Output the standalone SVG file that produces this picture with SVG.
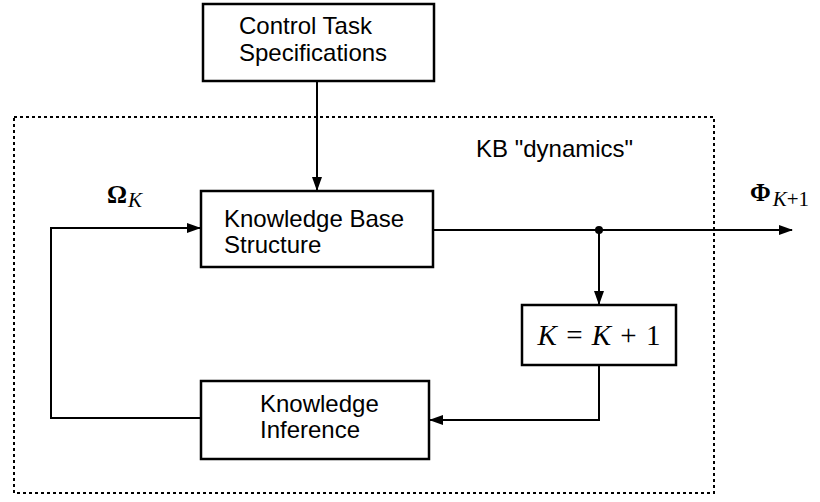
<svg xmlns="http://www.w3.org/2000/svg" width="820" height="502" viewBox="0 0 820 502">
<style>
.box{fill:#fff;stroke:#000;stroke-width:2.5}
.ln{fill:none;stroke:#000;stroke-width:2}
.t{font-family:"Liberation Sans",Arial,sans-serif;font-size:24px;fill:#000}
.m{font-family:"Liberation Serif","Times New Roman",serif;fill:#000}
</style>
<defs>
<marker id="ah" markerWidth="14" markerHeight="10" refX="13" refY="5" orient="auto" markerUnits="userSpaceOnUse">
<path d="M0,0 L14,5 L0,10 Z" fill="#000"/>
</marker>
</defs>
<rect x="14" y="117" width="700" height="376" fill="none" stroke="#000" stroke-width="2" stroke-dasharray="3,3"/>
<text class="t" x="476" y="157" font-size="25">KB "dynamics"</text>
<g id="connectors">
<path class="ln" d="M317,81 V190" marker-end="url(#ah)"/>
<path class="ln" d="M433,230 H792" marker-end="url(#ah)"/>
<circle cx="599" cy="230" r="4" fill="#000"/>
<path class="ln" d="M599,230 V304" marker-end="url(#ah)"/>
<path class="ln" d="M599,365 V420 H430" marker-end="url(#ah)"/>
<path class="ln" d="M201,418 H51 V228 H200" marker-end="url(#ah)"/>
</g>
<g id="control">
<rect class="box" x="203" y="4" width="231" height="77"/>
<text class="t" x="239" y="34">Control Task</text>
<text class="t" x="239" y="61">Specifications</text>
</g>
<g id="kbs">
<rect class="box" x="201" y="191" width="232" height="76"/>
<text class="t" x="224" y="227">Knowledge Base</text>
<text class="t" x="224" y="253">Structure</text>
</g>
<g id="kplus">
<rect class="box" x="522" y="305" width="154" height="60"/>
<text class="m" x="599" y="345" font-size="29" word-spacing="2" text-anchor="middle"><tspan font-style="italic">K</tspan> = <tspan font-style="italic">K</tspan> + 1</text>
</g>
<g id="kinf">
<rect class="box" x="201" y="381" width="228" height="78"/>
<text class="t" x="260" y="412">Knowledge</text>
<text class="t" x="260" y="438">Inference</text>
</g>
<g id="omega">
<text class="m" x="107" y="203" font-size="25" font-weight="bold">Ω<tspan font-weight="normal" font-style="italic" font-size="21" dx="1" dy="4">K</tspan></text>
</g>
<g id="phi">
<text class="m" x="750" y="201" font-size="25" font-weight="bold">Φ<tspan font-weight="normal" font-style="italic" font-size="21" dx="2" dy="5">K</tspan><tspan font-weight="normal" font-size="21">+1</tspan></text>
</g>
</svg>
